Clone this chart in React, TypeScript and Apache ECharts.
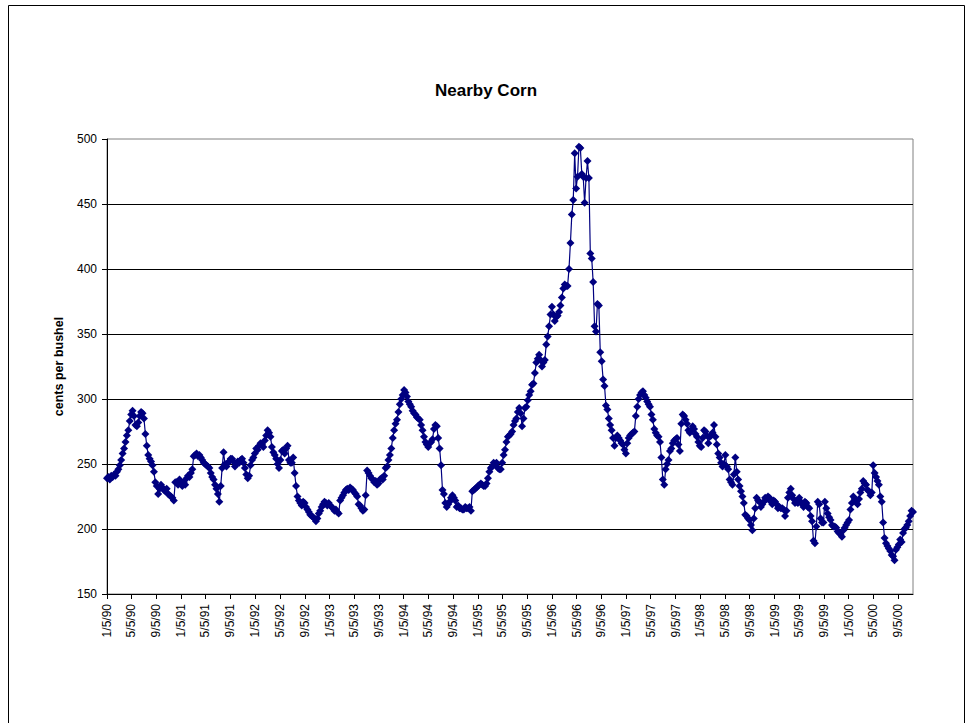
import React, { useEffect, useRef } from "react";
import * as echarts from "echarts";

// Weekly nearby corn prices (cents per bushel), Fridays starting 1/5/90
const p1990 = [239, 240, 238, 241, 240, 242, 241, 244, 246, 249, 253, 258, 262, 267, 272, 276, 283, 288, 291, 287, 280, 279, 282, 287, 290, 289, 285, 273, 264, 257, 254, 252, 249, 244, 236, 233, 227, 231, 234, 232, 230, 229, 231, 227, 226, 225, 224, 222, 236, 236, 234, 238];
const p1991 = [235, 233, 236, 234, 239, 241, 240, 243, 246, 256, 257, 258, 256, 257, 255, 253, 251, 250, 249, 248, 247, 243, 240, 238, 234, 231, 227, 221, 233, 247, 259, 250, 248, 251, 252, 254, 254, 252, 248, 250, 252, 251, 253, 254, 251, 247, 242, 239, 241, 249, 253, 255];
const p1992 = [258, 262, 261, 264, 266, 265, 263, 268, 272, 276, 274, 271, 263, 259, 257, 254, 250, 247, 253, 260, 261, 258, 262, 264, 253, 251, 251, 255, 243, 233, 225, 222, 220, 218, 221, 220, 217, 215, 213, 211, 210, 209, 208, 206, 208, 212, 214, 217, 219, 221, 220, 218];
const p1993 = [220, 218, 217, 216, 214, 215, 213, 212, 222, 224, 226, 228, 230, 231, 230, 232, 231, 230, 228, 227, 225, 219, 218, 216, 214, 215, 226, 245, 243, 241, 239, 238, 236, 237, 234, 235, 238, 239, 238, 241, 247, 248, 253, 257, 262, 270, 276, 281, 284, 290, 296, 300];
const p1994 = [303, 307, 305, 302, 298, 296, 294, 291, 289, 288, 286, 285, 284, 280, 276, 271, 267, 265, 263, 266, 267, 269, 277, 280, 279, 270, 262, 249, 230, 227, 220, 217, 219, 221, 224, 226, 224, 222, 217, 218, 216, 216, 215, 215, 217, 216, 216, 217, 214, 229, 230, 231];
const p1995 = [232, 233, 234, 235, 234, 233, 233, 235, 239, 244, 247, 248, 251, 250, 251, 247, 246, 246, 251, 257, 261, 267, 271, 272, 273, 275, 280, 283, 285, 290, 293, 289, 279, 285, 293, 294, 299, 303, 306, 311, 312, 320, 328, 331, 334, 330, 325, 328, 330, 342, 348, 356];
const p1996 = [365, 371, 365, 360, 363, 364, 367, 372, 378, 385, 388, 387, 387, 400, 420, 442, 453, 489, 462, 471, 494, 493, 473, 471, 451, 470, 483, 470, 412, 408, 390, 356, 352, 373, 372, 336, 329, 315, 310, 295, 292, 285, 280, 276, 270, 264, 270, 272, 270, 268, 266, 265];
const p1997 = [261, 258, 266, 270, 272, 273, 274, 275, 287, 294, 300, 303, 305, 306, 303, 301, 298, 296, 294, 288, 284, 277, 274, 272, 271, 267, 255, 238, 234, 246, 250, 253, 260, 262, 266, 268, 269, 270, 265, 260, 281, 288, 287, 284, 281, 276, 274, 276, 279, 277, 273, 271];
const p1998 = [267, 264, 263, 270, 276, 275, 272, 266, 271, 272, 274, 280, 271, 265, 258, 255, 251, 248, 250, 257, 248, 246, 238, 236, 234, 242, 255, 244, 238, 233, 229, 225, 220, 211, 210, 208, 207, 203, 199, 208, 216, 224, 222, 221, 217, 219, 221, 224, 223, 225, 224, 221];
const p1999 = [219, 222, 221, 219, 216, 217, 216, 216, 215, 210, 214, 224, 228, 231, 226, 223, 220, 221, 220, 224, 221, 219, 217, 221, 220, 217, 216, 210, 206, 191, 189, 202, 221, 219, 208, 205, 205, 221, 216, 212, 209, 207, 203, 202, 202, 201, 198, 197, 196, 194, 199, 201];
const p2000 = [203, 205, 207, 215, 220, 225, 223, 221, 219, 223, 228, 231, 237, 235, 234, 230, 229, 226, 228, 249, 243, 240, 237, 234, 225, 221, 205, 193, 189, 187, 185, 183, 180, 179, 176, 184, 186, 188, 192, 190, 197, 200, 201, 203, 206, 210, 214, 213];

const firstDate = [1990, 0, 5];
const labelMonths = [1, 5, 9];
const labelDay = 5;
const yMin = 150;
const yMax = 500;
const yStep = 50;

const titleText = "Nearby Corn";
const yName = "cents per bushel";
const FONT = "'Liberation Sans', Arial, sans-serif";

export default function App() {
  const ref = useRef<HTMLDivElement>(null);
  useEffect(() => {
    if (!ref.current) return;
    const chart = echarts.init(ref.current, null, { renderer: "svg" });
    const weekly = [
      ...p1990, ...p1991, ...p1992, ...p1993, ...p1994, ...p1995,
      ...p1996, ...p1997, ...p1998, ...p1999, ...p2000,
    ];
    const start = Date.UTC(firstDate[0], firstDate[1], firstDate[2]);
    const dayMs = 86400000;
    const nDays = (weekly.length - 1) * 7 + 1;
    const days: string[] = [];
    const labelIdx = new Set<number>();
    for (let i = 0; i < nDays; i++) {
      const d = new Date(start + i * dayMs);
      const m = d.getUTCMonth() + 1;
      const dd = d.getUTCDate();
      const yy = String(d.getUTCFullYear() % 100).padStart(2, "0");
      days.push(`${m}/${dd}/${yy}`);
      if (dd === labelDay && labelMonths.includes(m)) labelIdx.add(i);
    }
    const data = weekly.map((v, k) => [k * 7, v]);
    const showAt = (index: number) => labelIdx.has(index);

    chart.setOption({
      animation: false,
      backgroundColor: "#ffffff",
      textStyle: { fontFamily: FONT },
      grid: {
        left: 107,
        top: 139,
        width: 806,
        height: 455,
        show: true,
        borderColor: "#808080",
        borderWidth: 1,
        backgroundColor: "transparent",
      },
      graphic: [
        {
          type: "rect",
          shape: { x: 8.5, y: 5.5, width: 956, height: 740 },
          style: { fill: "none", stroke: "#000000", lineWidth: 1 },
          silent: true,
        },
        {
          type: "text",
          x: 486,
          y: 90,
          style: {
            text: titleText,
            fill: "#000000",
            font: `bold 17px ${FONT}`,
            align: "center",
            verticalAlign: "middle",
          },
        },
      ],
      xAxis: {
        type: "category",
        data: days,
        boundaryGap: false,
        axisLine: { show: true, lineStyle: { color: "#000000", width: 1 } },
        axisTick: {
          show: true,
          interval: showAt,
          length: 5,
          lineStyle: { color: "#000000" },
        },
        axisLabel: {
          interval: showAt,
          rotate: 90,
          margin: 10,
          color: "#000000",
          fontSize: 12,
          fontFamily: FONT,
        },
        splitLine: { show: false },
      },
      yAxis: {
        type: "value",
        min: yMin,
        max: yMax,
        interval: yStep,
        name: yName,
        nameLocation: "middle",
        nameGap: 42,
        nameTextStyle: {
          fontWeight: "bold",
          fontSize: 12.5,
          color: "#000000",
          fontFamily: FONT,
        },
        axisLine: { show: true, lineStyle: { color: "#000000", width: 1 } },
        axisTick: { show: true, length: 5, lineStyle: { color: "#000000" } },
        axisLabel: { color: "#000000", fontSize: 12, margin: 10, fontFamily: FONT },
        splitLine: {
          show: true,
          showMinLine: false,
          showMaxLine: false,
          lineStyle: { color: "#000000", width: 1 },
        },
      },
      series: [
        {
          type: "line",
          data,
          symbol: "diamond",
          symbolSize: 8,
          showAllSymbol: true,
          lineStyle: { color: "#000080", width: 1.2 },
          itemStyle: { color: "#000080" },
          connectNulls: true,
        },
      ],
    });
    return () => chart.dispose();
  }, []);
  return (
    <div
      ref={ref}
      style={{ position: "absolute", left: 0, top: 0, width: 967, height: 723 }}
    />
  );
}
